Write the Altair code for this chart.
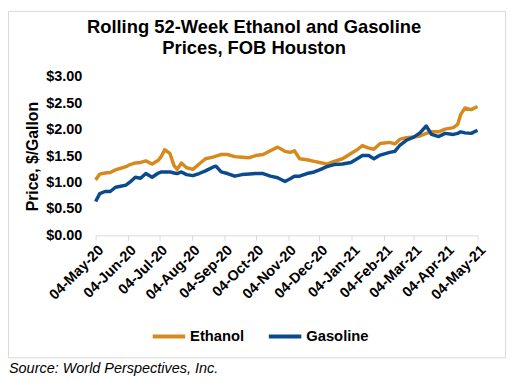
import altair as alt
import pandas as pd

dates = [
    "2020-05-04", "2020-05-08", "2020-05-13", "2020-05-18", "2020-05-23", "2020-05-28",
    "2020-06-02", "2020-06-06", "2020-06-11", "2020-06-16", "2020-06-21", "2020-06-27",
    "2020-07-03", "2020-07-06", "2020-07-09", "2020-07-14", "2020-07-18", "2020-07-21",
    "2020-07-25", "2020-07-30", "2020-08-05", "2020-08-11", "2020-08-17", "2020-08-24",
    "2020-08-27", "2020-09-01", "2020-09-07", "2020-09-14", "2020-09-21", "2020-09-28",
    "2020-10-04", "2020-10-11", "2020-10-18", "2020-10-25", "2020-11-01", "2020-11-06",
    "2020-11-10", "2020-11-15", "2020-11-22", "2020-11-29", "2020-12-04", "2020-12-11",
    "2020-12-18", "2020-12-26", "2021-01-03", "2021-01-09", "2021-01-14", "2021-01-20",
    "2021-01-25", "2021-01-31", "2021-02-09", "2021-02-14", "2021-02-19", "2021-02-25",
    "2021-03-04", "2021-03-10", "2021-03-16", "2021-03-21", "2021-03-28", "2021-04-03",
    "2021-04-11", "2021-04-15", "2021-04-18", "2021-04-22", "2021-04-28", "2021-05-04",
]
ethanol = [
    1.05, 1.16, 1.18, 1.19, 1.24, 1.27,
    1.30, 1.34, 1.37, 1.38, 1.41, 1.35,
    1.42, 1.50, 1.62, 1.55, 1.32, 1.25,
    1.37, 1.28, 1.25, 1.35, 1.45, 1.48,
    1.50, 1.53, 1.53, 1.49, 1.48, 1.47,
    1.51, 1.53, 1.60, 1.67, 1.59, 1.57,
    1.60, 1.45, 1.43, 1.40, 1.38, 1.35,
    1.40, 1.45, 1.55, 1.62, 1.70, 1.65,
    1.63, 1.74, 1.76, 1.73, 1.82, 1.85,
    1.86, 1.88, 1.93, 1.96, 1.96, 2.01,
    2.04, 2.10, 2.29, 2.41, 2.38, 2.44,
]
gasoline = [
    0.64, 0.79, 0.83, 0.83, 0.91, 0.93,
    0.95, 1.01, 1.10, 1.08, 1.17, 1.10,
    1.18, 1.20, 1.20, 1.20, 1.18, 1.17,
    1.20, 1.15, 1.13, 1.17, 1.22, 1.29,
    1.31, 1.20, 1.17, 1.12, 1.15, 1.16,
    1.17, 1.17, 1.12, 1.09, 1.02, 1.07,
    1.12, 1.12, 1.17, 1.20, 1.24, 1.30,
    1.34, 1.35, 1.38, 1.45, 1.51, 1.51,
    1.45, 1.52, 1.57, 1.59, 1.71, 1.80,
    1.86, 1.94, 2.07, 1.91, 1.87, 1.93,
    1.91, 1.93, 1.96, 1.94, 1.93, 1.99,
]
series_names = ["Ethanol", "Gasoline"]
series_colors = ["#D68A1D", "#0B4A8C"]
y_ticks = [0, 0.5, 1.0, 1.5, 2.0, 2.5, 3.0]
tick_months = [(2020, m) for m in range(5, 13)] + [(2021, m) for m in range(1, 6)]
title_lines = ["Rolling 52-Week Ethanol and Gasoline", "Prices, FOB Houston"]
source_text = "Source: World Perspectives, Inc."

df = pd.concat([
    pd.DataFrame({"date": dates, "price": ethanol, "series": "Ethanol"}),
    pd.DataFrame({"date": dates, "price": gasoline, "series": "Gasoline"}),
])

FONT = "Liberation Sans"
tick_values = [alt.DateTime(year=y, month=m, date=4, utc=True) for y, m in tick_months]

lines = alt.Chart(df).mark_line(strokeWidth=3.5, strokeJoin="round").encode(
    x=alt.X(
        "date:T",
        scale=alt.Scale(type="utc", domain=[tick_values[0], tick_values[-1]]),
        axis=alt.Axis(
            values=tick_values, format="%d-%b-%y", labelAngle=-45, labelAlign="right",
            labelBaseline="top", labelFont=FONT, labelFontSize=14.67, labelFontWeight="bold",
            labelColor="black", domainColor="#d9d9d9", tickColor="#d9d9d9", tickSize=5,
            grid=False, title=None, labelPadding=2, labelOverlap=False, labelFlush=False,
        ),
    ),
    y=alt.Y(
        "price:Q",
        scale=alt.Scale(domain=[0, 3], nice=False),
        axis=alt.Axis(
            values=y_ticks, format="$.2f", labelFont=FONT, labelFontSize=14.67,
            labelFontWeight="bold", labelColor="black", ticks=False, tickSize=0,
            domain=False, grid=False, labelPadding=14, title="Price, $/Gallon",
            titleFont=FONT, titleFontSize=16, titleFontWeight="bold", titleColor="black",
            titlePadding=5,
        ),
    ),
    color=alt.Color(
        "series:N",
        scale=alt.Scale(domain=series_names, range=series_colors),
        legend=alt.Legend(
            orient="none", legendX=56, legendY=245, direction="horizontal", title=None,
            symbolType="stroke", symbolSize=1089, symbolStrokeWidth=4, labelFont=FONT,
            labelFontSize=15, labelFontWeight="bold", labelColor="black", labelOffset=3,
            columnPadding=17, padding=0,
        ),
    ),
)

border = alt.Chart(alt.Data(values=[{"k": 1}])).mark_rect(
    fillOpacity=0, stroke="#d9d9d9", strokeWidth=1
).encode(
    x=alt.value(-88.5), x2=alt.value(416.5), y=alt.value(-66.5), y2=alt.value(285.5)
)

t1 = alt.Chart(alt.Data(values=[{"t": title_lines[0]}])).mark_text(
    font=FONT, fontSize=18.67, fontWeight="bold", color="black", align="center", baseline="alphabetic"
).encode(text="t:N", x=alt.value(161), y=alt.value(-44.5))
t2 = alt.Chart(alt.Data(values=[{"t": title_lines[1]}])).mark_text(
    font=FONT, fontSize=18.67, fontWeight="bold", color="black", align="center", baseline="alphabetic"
).encode(text="t:N", x=alt.value(161), y=alt.value(-23.5))
src = alt.Chart(alt.Data(values=[{"t": source_text}])).mark_text(
    font=FONT, fontSize=14.67, fontStyle="italic", color="black", align="left", baseline="alphabetic"
).encode(text="t:N", x=alt.value(-88), y=alt.value(301))

chart = alt.layer(border, lines, t1, t2, src).properties(
    width=388, height=161,
    autosize=alt.AutoSizeParams(type="none"),
    padding={"left": 89, "top": 67, "right": 32, "bottom": 144},
).configure_view(stroke=None)

chart.save("out.html", embed_options={"renderer": "svg", "actions": False})
